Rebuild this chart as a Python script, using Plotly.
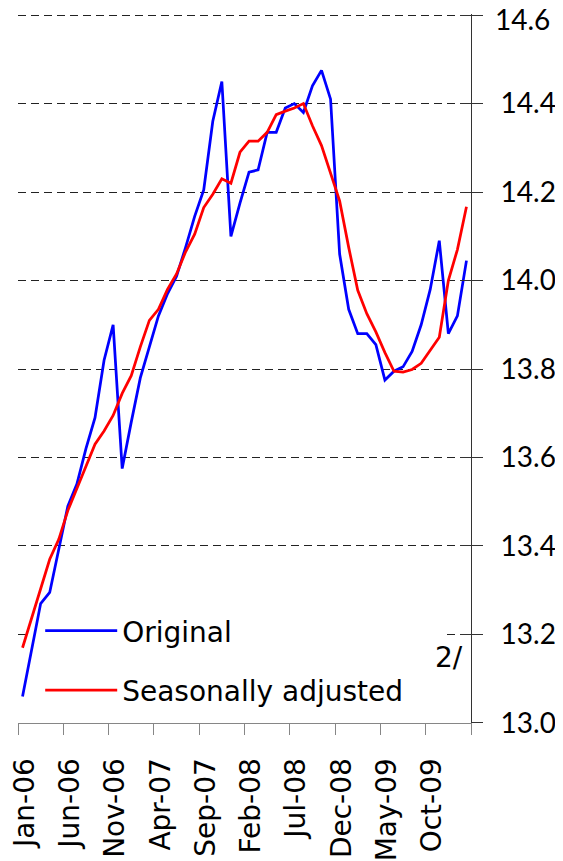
import plotly.graph_objects as go

# Monthly categories Jan-06 .. Feb-10
month_names = ["Jan", "Feb", "Mar", "Apr", "May", "Jun", "Jul", "Aug", "Sep", "Oct", "Nov", "Dec"]
years = ["06", "07", "08", "09", "10"]
months = [f"{m}-{y}" for y in years for m in month_names][:50]

original = [13.06, 13.165, 13.27, 13.295, 13.39, 13.49, 13.54, 13.62, 13.69, 13.82,
            13.90, 13.575, 13.68, 13.78, 13.85, 13.92, 13.97, 14.01, 14.075, 14.145,
            14.205, 14.36, 14.45, 14.10, 14.175, 14.245, 14.25, 14.335, 14.335, 14.39,
            14.40, 14.38, 14.44, 14.475, 14.41, 14.06, 13.935, 13.88, 13.88, 13.855,
            13.775, 13.795, 13.805, 13.84, 13.90, 13.98, 14.09, 13.88, 13.92, 14.045]

seasonally_adjusted = [13.17, 13.235, 13.30, 13.37, 13.415, 13.48, 13.53, 13.58, 13.63, 13.66,
                       13.695, 13.745, 13.785, 13.85, 13.91, 13.935, 13.98, 14.015, 14.065, 14.105,
                       14.165, 14.195, 14.23, 14.22, 14.29, 14.315, 14.315, 14.335, 14.375, 14.383,
                       14.39, 14.40, 14.35, 14.305, 14.24, 14.18, 14.075, 13.978, 13.925, 13.884,
                       13.837, 13.795, 13.793, 13.799, 13.813, 13.844, 13.872, 14.0, 14.07, 14.167]

y_ticks = [13.0, 13.2, 13.4, 13.6, 13.8, 14.0, 14.2, 14.4, 14.6]
y_labels = [f"{v:.1f}" for v in y_ticks]
y_range = [12.9999, 14.6025]
label_step = 5

x = list(range(len(months)))
label_pos = x[::label_step]
label_text = months[::label_step]
boundaries = [p - 0.5 for p in range(0, len(months) + 1, label_step)]

# the top label is nudged down (inside the chart) as in the original
main_labels = y_labels[:-1] + [""]
top_label = [""] * (len(y_labels) - 1) + [y_labels[-1]]

FONT = "DejaVu Sans"
YFONT = dict(family="Lato", size=28, color="black")
fig = go.Figure()
fig.add_trace(go.Scatter(x=x, y=original, mode="lines", name="Original",
                         line=dict(color="#0000FF", width=2.75), legendgroup="a"))
fig.add_trace(go.Scatter(x=x, y=seasonally_adjusted, mode="lines", name="Seasonally adjusted",
                         line=dict(color="#FF0000", width=2.75), legendgroup="b", yaxis="y2"))

# white legend background that hides the grid but stays under the series
fig.add_shape(type="rect", xref="x", yref="y", x0=0.5, x1=46.85, y0=13.02, y1=13.255,
              fillcolor="white", line=dict(width=0), layer="between")

fig.add_annotation(text="2/", xref="paper", yref="paper", x=0.987, y=0.093,
                   xanchor="right", yanchor="middle", showarrow=False,
                   font=dict(family=FONT, size=28, color="black"))

# page body adds an 8px offset; the figure is sized to fill the 563x861 window
fig.update_layout(
    width=555, height=853,
    margin=dict(l=10, r=92, t=6, b=138),
    plot_bgcolor="white", paper_bgcolor="white",
    showlegend=True,
    legend=dict(x=0.049, y=0.165, xanchor="left", yanchor="top", bgcolor="rgba(0,0,0,0)",
                font=dict(family=FONT, size=28, color="black"), tracegroupgap=20,
                traceorder="grouped", itemwidth=72),
    xaxis=dict(range=[-0.5, len(months) - 0.5], tickmode="array", tickvals=label_pos,
               ticktext=label_text, ticks="", tickangle=-90, showgrid=False, zeroline=False,
               showline=True, linecolor="#868686", linewidth=1, automargin=False,
               tickfont=dict(family=FONT, size=28, color="black"), ticklabelstandoff=23,
               ticklabeloverflow="allow", ticklabelshift=2,
               minor=dict(tickmode="array", tickvals=boundaries, ticks="outside", ticklen=11,
                          tickcolor="#868686", tickwidth=1, showgrid=False)),
    yaxis=dict(range=y_range, tickmode="array", tickvals=y_ticks, ticktext=main_labels,
               side="right", ticks="outside", ticklen=11, tickcolor="#333333",
               showline=True, linecolor="#333333", linewidth=1, zeroline=False,
               showgrid=True, gridcolor="#222222", gridwidth=1, griddash="8px,5px",
               automargin=False, ticklabeloverflow="allow",
               tickfont=YFONT, ticklabelstandoff=12),
    yaxis2=dict(range=y_range, overlaying="y", side="right", matches="y",
                tickmode="array", tickvals=y_ticks, ticktext=top_label, ticks="inside",
                ticklen=11, tickcolor="#333333", showticklabels=True, showgrid=False,
                zeroline=False, showline=False, automargin=False, ticklabeloverflow="allow",
                tickfont=YFONT, ticklabelstandoff=23, ticklabelshift=5),
)

fig.write_html("out.html")
